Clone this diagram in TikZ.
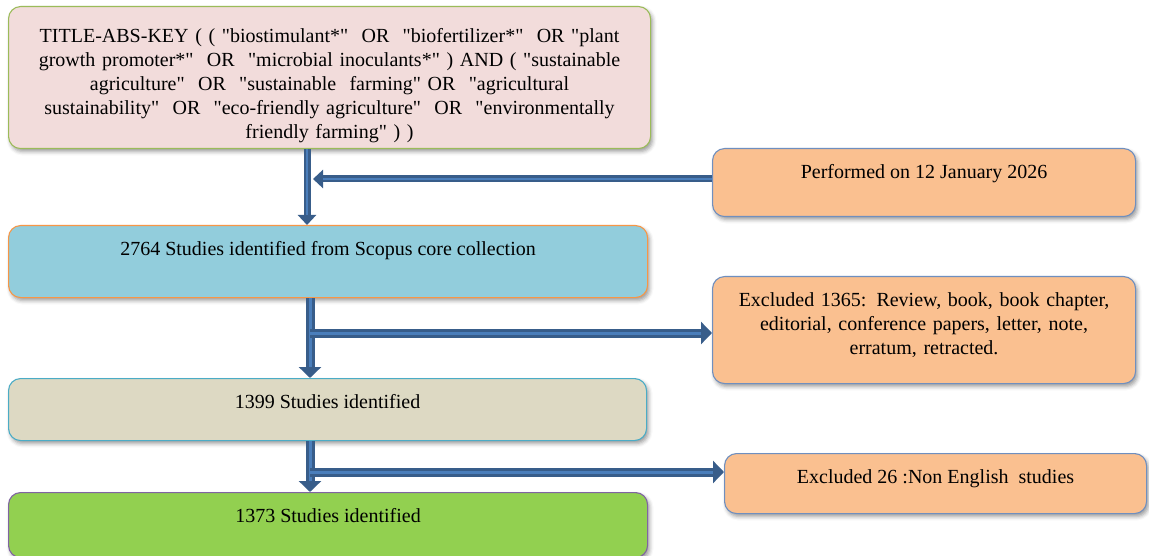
\documentclass[tikz,border=0pt]{standalone}
\usepackage{fontspec}
\setmainfont{Liberation Serif}[Ligatures=TeXOff]
\usetikzlibrary{arrows.meta,shadows.blur,calc}
\definecolor{qfill}{HTML}{F2DCDB}
\definecolor{qline}{HTML}{9BBB59}
\definecolor{peach}{HTML}{FAC090}
\definecolor{peachline}{HTML}{6F8FBF}
\definecolor{cyanfill}{HTML}{92CDDC}
\definecolor{cyanline}{HTML}{F79646}
\definecolor{tanfill}{HTML}{DDD9C3}
\definecolor{tanline}{HTML}{4BACC6}
\definecolor{greenfill}{HTML}{92D050}
\definecolor{greenline}{HTML}{8064A2}
\definecolor{arrowdark}{HTML}{385D8A}
\definecolor{arrowlight}{HTML}{4A7EBB}
\begin{document}
\begin{tikzpicture}[x=1pt,y=1pt,
  box/.style={draw, rounded corners=12pt, line width=1.1pt, anchor=north west,
    inner xsep=4pt, inner ysep=0pt, align=center,
    font=\fontsize{20}{24}\selectfont,
    blur shadow={shadow xshift=2pt, shadow yshift=-3pt, shadow blur radius=4pt, shadow opacity=40}},
  topbox/.style={box, text height=30pt, text depth=#1},
  flowarrow/.style={line width=9pt, draw=arrowdark, -{Triangle[width=22pt,length=11pt]},
    postaction={draw=arrowlight, line width=3pt, -, shorten >=11pt}},
  thinarrow/.style={line width=7pt, draw=arrowdark, -{Triangle[width=18pt,length=10pt]},
    postaction={draw=arrowlight, line width=2.5pt, -, shorten >=10pt}}
]
\useasboundingbox (0,0) rectangle (1149,-556);

\node[box, draw=qline, fill=qfill, minimum width=642pt, text width=634pt, text height=36pt, text depth=106pt] (q) at (8,-6)
 {TITLE-ABS-KEY ( ( "biostimulant*"\ \ OR\ \ "biofertilizer*"\ \ OR "plant\\
  growth promoter*"\ \ OR\ \ "microbial inoculants*" ) AND ( "sustainable\\
  agriculture"\ \ OR\ \ "sustainable\ \ farming" OR\ \ "agricultural\\
  sustainability"\ \ OR\ \ "eco-friendly agriculture"\ \ OR\ \ "environmentally\\
  friendly farming" ) )};

\node[topbox=38pt, draw=peachline, fill=peach, minimum width=423pt] (perf) at (712,-148)
 {Performed on 12 January 2026};

\node[topbox=42pt, draw=cyanline, fill=cyanfill, minimum width=639pt] (s2764) at (8,-225)
 {2764 Studies identified from Scopus core collection};

\node[topbox=77pt, draw=peachline, fill=peach, minimum width=423pt, text width=415pt] (exc1) at (712,-276)
 {Excluded 1365: Review, book, book chapter,\\ editorial, conference papers, letter, note,\\ erratum, retracted.};

\node[topbox=32pt, draw=tanline, fill=tanfill, minimum width=638pt] (s1399) at (8,-378)
 {1399 Studies identified};

\node[topbox=30pt, draw=peachline, fill=peach, minimum width=422pt] (exc2) at (724,-453)
 {Excluded 26 :Non English\ \ studies};

\node[topbox=35pt, draw=greenline, fill=greenfill, minimum width=639pt] (s1373) at (8,-492)
 {1373 Studies identified};

\coordinate (v1) at (307,0);
\coordinate (v2) at (310,0);
\coordinate (t1) at (313,-179);
\coordinate (h2) at (310,-333);
\coordinate (h3) at (310,-472);

\draw[thinarrow] (q.south -| v1) -- (s2764.north -| v1);
\draw[thinarrow] (perf.west |- t1) -- (t1);
\draw[flowarrow] (s2764.south -| v2) -- (s1399.north -| v2);
\draw[flowarrow] (h2) -- (exc1.west |- h2);
\draw[flowarrow] (s1399.south -| v2) -- (s1373.north -| v2);
\draw[flowarrow] (h3) -- (exc2.west |- h3);
\end{tikzpicture}
\end{document}
